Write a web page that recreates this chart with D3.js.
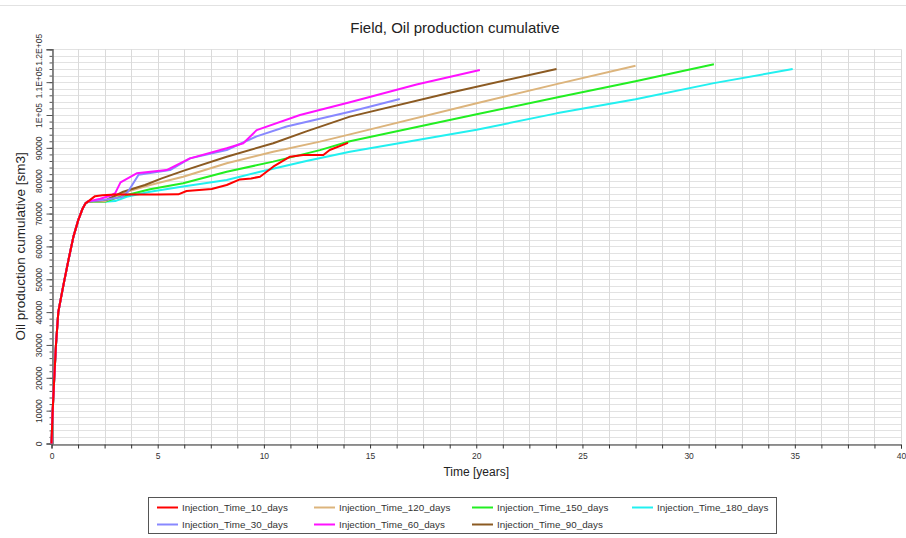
<!DOCTYPE html>
<html>
<head>
<meta charset="utf-8">
<script src="https://cdn.jsdelivr.net/npm/d3@7/dist/d3.min.js"></script>
<style>
  html, body { margin: 0; padding: 0; background: #ffffff; }
  svg { display: block; font-family: "Liberation Sans", Arial, sans-serif; }
</style>
</head>
<body>
<svg id="chart" width="906" height="538"></svg>
<script>
// Primary depletion period, shared by every case (years, sm3)
const rampTime = [0, 0.056, 0.13, 0.21, 0.32, 0.45, 0.6, 0.8, 1.03, 1.26, 1.45, 1.6, 1.73];
const rampOil  = [0, 10000, 20000, 30000, 40000, 44500, 49500, 55900, 62900, 68000, 71300, 73100, 73700];

// Cyclic injection cases, after the primary period
const time10  = [2.05, 2.4, 3.0, 4.0, 5.0, 5.97, 6.36, 7.54, 8.25, 8.87, 9.4, 9.82, 10.44, 11.23, 11.85, 12.8, 13.1, 13.96];
const oil10   = [75300, 75600, 75800, 75800, 75800, 75850, 76850, 77470, 78700, 80400, 80700, 81200, 84260, 87300, 87800, 87800, 89350, 91500];

const time30  = [2.6, 3.3, 3.6, 4.1, 5.58, 6.52, 8.25, 9.66, 11.07, 14.05, 16.4];
const oil30   = [74300, 75000, 76650, 81800, 83250, 86800, 89350, 93500, 96500, 101000, 104870];

const time60  = [2.3, 2.8, 3.0, 3.25, 4.01, 5.42, 6.52, 8.25, 9.03, 9.66, 11.7, 14.05, 17.19, 20.17];
const oil60   = [74500, 75500, 76200, 79500, 82250, 83250, 86800, 89860, 91400, 95400, 100000, 103900, 109300, 113700];

const time90  = [2.6, 3.38, 4.4, 5.19, 6.2, 8.25, 10.44, 12.0, 14.05, 18.76, 23.78];
const oil90   = [74200, 76650, 78700, 80700, 83000, 87300, 91400, 95000, 99500, 106800, 114000];

const time120 = [2.5, 3.54, 4.64, 6.2, 8.25, 10.44, 12.64, 14.05, 20.02, 23.78, 27.5];
const oil120  = [73700, 76650, 78700, 81200, 85300, 88800, 91900, 94100, 103600, 109400, 115000];

const time150 = [2.5, 3.22, 4.64, 6.2, 8.25, 10.44, 12.64, 14.05, 20.02, 23.78, 27.5, 31.19];
const oil150  = [73600, 75130, 77400, 79200, 82750, 85800, 89300, 92000, 100200, 105300, 110300, 115430];

const time180 = [2.5, 3.0, 3.54, 4.64, 6.2, 8.25, 9.82, 12.0, 14.05, 20.02, 23.78, 27.5, 31.19, 34.9];
const oil180  = [73600, 73800, 75130, 76650, 78200, 80200, 82750, 86000, 88800, 95500, 100500, 104800, 109700, 114000];

const seriesNames  = ["Injection_Time_10_days", "Injection_Time_120_days", "Injection_Time_150_days", "Injection_Time_180_days",
                      "Injection_Time_30_days", "Injection_Time_60_days", "Injection_Time_90_days"];
const seriesColors = ["#ff0000", "#dcb47c", "#22ee22", "#22f0f0", "#8888ff", "#ff11ff", "#8b5a22"];
const seriesTimes  = [time10, time120, time150, time180, time30, time60, time90];
const seriesOil    = [oil10, oil120, oil150, oil180, oil30, oil60, oil90];

const xTicks = [0, 5, 10, 15, 20, 25, 30, 35, 40];
const yTicks = [0, 10000, 20000, 30000, 40000, 50000, 60000, 70000, 80000, 90000, 100000, 110000, 120000];
const yTickLabels = ["0", "10000", "20000", "30000", "40000", "50000", "60000", "70000", "80000", "90000", "1E+05", "1.1E+05", "1.2E+05"];

const W = 906, H = 538;
const m = { left: 51.5, right: 5, top: 49.3, bottom: 94.5 };
const svg = d3.select("#chart");

const x = d3.scaleLinear().domain([0, 40]).range([m.left, W - m.right]);
const y = d3.scaleLinear().domain([0, 120000]).range([H - m.bottom, m.top]);

// Thin rule along the top of the page
svg.append("line").attr("x1", 0).attr("x2", W).attr("y1", 5.5).attr("y2", 5.5)
  .attr("stroke", "#e2e2e2").attr("stroke-width", 1);

// Grid
const grid = svg.append("g");
grid.selectAll("line.h").data(d3.range(0, 120001, 2000)).join("line")
  .attr("x1", x(0)).attr("x2", x(40))
  .attr("y1", d => Math.round(y(d)) + 0.5).attr("y2", d => Math.round(y(d)) + 0.5)
  .attr("stroke", "#e2e2e2").attr("stroke-width", 1);
grid.selectAll("line.v").data(d3.range(0, 40.01, 1.25)).join("line")
  .attr("y1", y(0)).attr("y2", y(120000))
  .attr("x1", d => Math.round(x(d)) + 0.5).attr("x2", d => Math.round(x(d)) + 0.5)
  .attr("stroke", "#dadada").attr("stroke-width", 1);

// Axes
const xAxis = d3.axisBottom(x).tickValues(d3.range(0, 40.01, 1.25)).tickSize(4)
  .tickFormat(d => xTicks.includes(d) ? String(d) : "");
const gx = svg.append("g").attr("transform", `translate(0,${Math.round(y(0)) + 0.5})`).call(xAxis);
gx.select(".domain").attr("stroke", "#333");
gx.selectAll(".tick line").attr("stroke", "#333");
gx.selectAll(".tick text").attr("font-size", 8.5).attr("fill", "#333").attr("dy", "0.9em")
  .attr("font-family", "Liberation Sans, Arial, sans-serif");

const yMinor = d3.axisLeft(y).tickValues(d3.range(0, 120001, 2000)).tickSize(3).tickFormat("");
const gyMinor = svg.append("g").attr("transform", `translate(${Math.round(x(0)) + 0.5},0)`).call(yMinor);
gyMinor.select(".domain").remove();
gyMinor.selectAll(".tick line").attr("stroke", "#555");

const yAxis = d3.axisLeft(y).tickValues(yTicks).tickSize(6)
  .tickFormat((d, i) => yTickLabels[i]);
const gy = svg.append("g").attr("transform", `translate(${Math.round(x(0)) + 0.5},0)`).call(yAxis);
gy.select(".domain").attr("stroke", "#666").attr("stroke-width", 1.5);
gy.selectAll(".tick line").attr("stroke", "#555");
gy.selectAll(".tick text")
  .attr("font-size", 8.5).attr("fill", "#333")
  .attr("font-family", "Liberation Sans, Arial, sans-serif")
  .attr("x", null).attr("dy", null)
  .attr("text-anchor", "middle")
  .attr("transform", "translate(-11,0) rotate(-90)");

// Series lines
const line = d3.line().x(d => x(d[0])).y(d => y(d[1]));
const series = seriesNames.map((name, i) => ({
  name, color: seriesColors[i],
  points: rampTime.map((t, k) => [t, rampOil[k]])
    .concat(seriesTimes[i].map((t, k) => [t, seriesOil[i][k]]))
}));
const drawOrder = [3, 2, 1, 6, 4, 5, 0];
svg.append("g").selectAll("path").data(drawOrder.map(i => series[i])).join("path")
  .attr("d", d => line(d.points))
  .attr("fill", "none")
  .attr("stroke", d => d.color)
  .attr("stroke-width", 2)
  .attr("stroke-linejoin", "round");

// Titles
svg.append("text").attr("x", 455).attr("y", 33).attr("text-anchor", "middle")
  .attr("font-size", 15).attr("fill", "#222").text("Field, Oil production cumulative");
svg.append("text").attr("x", (x(0) + x(40)) / 2).attr("y", 476).attr("text-anchor", "middle")
  .attr("font-size", 12).attr("fill", "#222").text("Time [years]");
svg.append("text").attr("transform", `translate(25,${(y(0) + y(120000)) / 2}) rotate(-90)`)
  .attr("text-anchor", "middle").attr("font-size", 13.5).attr("fill", "#222")
  .text("Oil production cumulative [sm3]");

// Legend
const legend = svg.append("g");
legend.append("rect").attr("x", 148.5).attr("y", 497.5).attr("width", 628).attr("height", 36)
  .attr("fill", "#fff").attr("stroke", "#555").attr("stroke-width", 1);
const colX = [157, 314, 472, 632];
const rowY = [507.5, 524.5];
const items = legend.selectAll("g.item").data(series).join("g")
  .attr("transform", (d, i) => `translate(${colX[i % 4]},${rowY[Math.floor(i / 4)]})`);
items.append("line").attr("x1", 0).attr("x2", 21).attr("y1", 0).attr("y2", 0)
  .attr("stroke", d => d.color).attr("stroke-width", 2);
items.append("text").attr("x", 25).attr("y", 0).attr("dy", "0.35em")
  .attr("font-size", 9.8).attr("fill", "#333").text(d => d.name);
</script>
</body>
</html>
